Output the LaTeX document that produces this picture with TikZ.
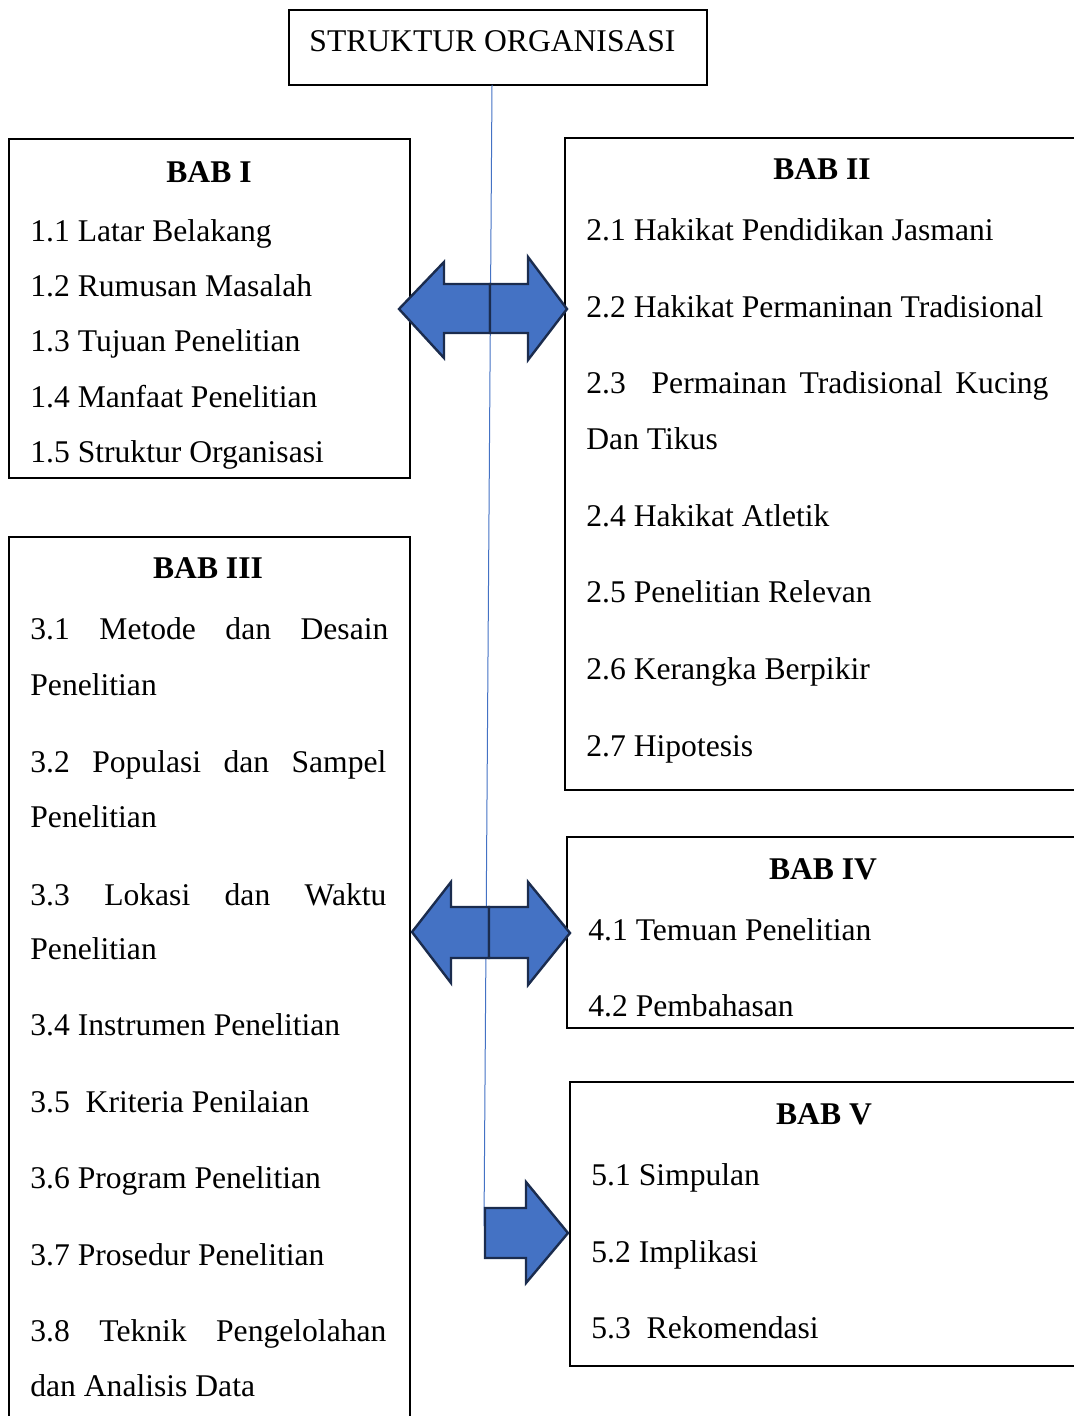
\documentclass[tikz,border=0pt]{standalone}
\usepackage{fontspec}
\setmainfont{Liberation Serif}
\usepackage{xcolor}
\definecolor{officeblue}{HTML}{4472C4}
\definecolor{arrowedge}{HTML}{1B2C4E}

\begin{document}
\begin{tikzpicture}[x=0.5pt, y=-0.5pt, font=\fontsize{15.8}{19}\selectfont,
	box/.style={draw, line width=0.65pt},
	item/.style={anchor=base west, inner sep=0pt, yshift=-1pt},
	babtitle/.style={anchor=base, inner sep=0pt, yshift=-1pt, font=\fontsize{15.8}{19}\selectfont\bfseries},
	spine/.style={draw=officeblue, line width=0.5pt},
	blockarrow/.style={fill=officeblue, draw=arrowedge, line width=1.2pt}]
	\useasboundingbox (0,0) rectangle (1073,1416);

	\node[box, inner sep=0pt, minimum width=209pt, minimum height=37.5pt] (titlebox) at (498,47.5) {};
	\node[anchor=base, inner sep=0pt, yshift=-1pt] (titletext) at (492.5,50) {STRUKTUR ORGANISASI};
	\coordinate (spinetop) at (492,85);
	\coordinate (spineend) at (484,1226);
	\draw[spine] (spinetop) -- (spineend);

	\draw[box] (9,139) rectangle (410,478);
	\node[babtitle] (bab1) at (209,181) {BAB I};
	\node[item] (s11) at (30,240) {1.1 Latar Belakang};
	\node[item] (s12) at (30,295) {1.2 Rumusan Masalah};
	\node[item] (s13) at (30,350) {1.3 Tujuan Penelitian};
	\node[item] (s14) at (30,406) {1.4 Manfaat Penelitian};
	\node[item] (s15) at (30,461) {1.5 Struktur Organisasi};

	\draw[box] (1085,138) -- (565,138) -- (565,790) -- (1085,790);
	\node[babtitle] (bab2) at (822,178) {BAB II};
	\node[item] (s21) at (586,239) {2.1 Hakikat Pendidikan Jasmani};
	\node[item] (s22) at (586,316) {2.2 Hakikat Permaninan Tradisional};
	\node[item] (s23) at (586,392) {\makebox[231pt][s]{2.3\ \ Permainan Tradisional Kucing}};
	\node[item] (s23b) at (586,448) {Dan Tikus};
	\node[item] (s24) at (586,524) {2.4 Hakikat Atletik};
	\node[item] (s25) at (586,600) {2.5 Penelitian Relevan};
	\node[item] (s26) at (586,677) {2.6 Kerangka Berpikir};
	\node[item] (s27) at (586,754) {2.7 Hipotesis};

	\draw[box] (9,1425) -- (9,537) -- (410,537) -- (410,1425);
	\node[babtitle] (bab3) at (208,576) {BAB III};
	\node[item] (s31) at (30,637) {\makebox[179pt][s]{3.1 Metode dan Desain}};
	\node[item] (s31b) at (30,693) {Penelitian};
	\node[item] (s32) at (30,770) {\makebox[178pt][s]{3.2 Populasi dan Sampel}};
	\node[item] (s32b) at (30,825) {Penelitian};
	\node[item] (s33) at (30,903) {\makebox[178pt][s]{3.3 Lokasi dan Waktu}};
	\node[item] (s33b) at (30,957) {Penelitian};
	\node[item] (s34) at (30,1033) {3.4 Instrumen Penelitian};
	\node[item] (s35) at (30,1110) {3.5\ \ Kriteria Penilaian};
	\node[item] (s36) at (30,1186) {3.6 Program Penelitian};
	\node[item] (s37) at (30,1263) {3.7 Prosedur Penelitian};
	\node[item] (s38) at (30,1339) {\makebox[178pt][s]{3.8 Teknik Pengelolahan}};
	\node[item] (s38b) at (30,1394) {dan Analisis Data};

	\draw[box] (1085,837) -- (567,837) -- (567,1028) -- (1085,1028);
	\node[babtitle] (bab4) at (823,877) {BAB IV};
	\node[item] (s41) at (588,938) {4.1 Temuan Penelitian};
	\node[item] (s42) at (588,1014) {4.2 Pembahasan};

	\draw[box] (1085,1082) -- (570,1082) -- (570,1366) -- (1085,1366);
	\node[babtitle] (bab5) at (824,1122) {BAB V};
	\node[item] (s51) at (591,1183) {5.1 Simpulan};
	\node[item] (s52) at (591,1260) {5.2 Implikasi};
	\node[item] (s53) at (591,1336) {5.3\ \ Rekomendasi};

	\draw[blockarrow] (490,284) -- (444,284) -- (444,262) -- (399,309) -- (444,358) -- (444,333) -- (490,333) -- cycle;
	\draw[blockarrow] (490,284) -- (528,284) -- (528,257) -- (567,309) -- (528,360) -- (528,333) -- (490,333) -- cycle;
	\draw[blockarrow] (489,907) -- (451,907) -- (451,882) -- (412,932) -- (451,983) -- (451,958) -- (489,958) -- cycle;
	\draw[blockarrow] (489,907) -- (528,907) -- (528,882) -- (570,933) -- (528,985) -- (528,958) -- (489,958) -- cycle;
	\draw[blockarrow] (485,1208) -- (526,1208) -- (526,1182) -- (568,1233) -- (526,1283) -- (526,1258) -- (485,1258) -- cycle;
\end{tikzpicture}
\end{document}
